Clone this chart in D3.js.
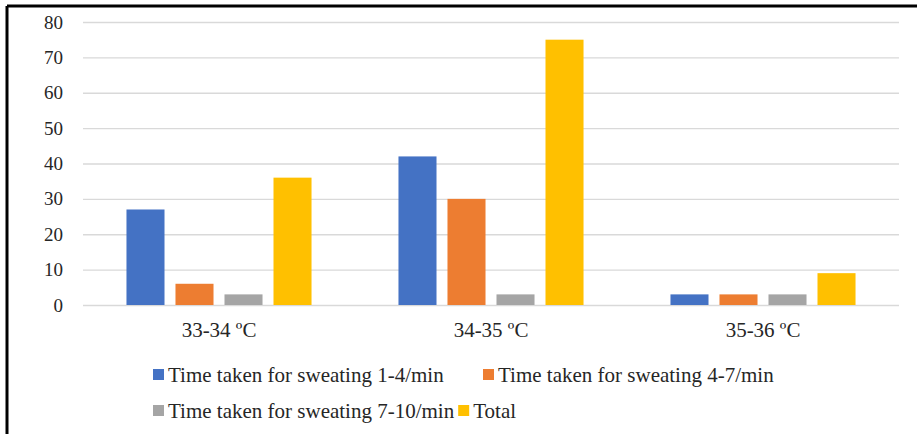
<!DOCTYPE html>
<html>
<head>
<meta charset="utf-8">
<script src="https://cdn.jsdelivr.net/npm/d3@7"></script>
</head>
<body style="margin:0;background:#fff">
<svg id="chart" width="917" height="434" style="display:block"></svg>
<script>
// Temperature ranges on the x axis
const categories = ["33-34 \u00BAC", "34-35 \u00BAC", "35-36 \u00BAC"];
// One entry per legend series
const seriesNames = [
  "Time taken for sweating 1-4/min",
  "Time taken for sweating 4-7/min",
  "Time taken for sweating 7-10/min",
  "Total"
];
const sweat1to4 = [27, 42, 3];
const sweat4to7 = [6, 30, 3];
const sweat7to10 = [3, 3, 3];
const totals = [36, 75, 9];
const yTicks = [0, 10, 20, 30, 40, 50, 60, 70, 80];
const colors = ["#4472C4", "#ED7D31", "#A5A5A5", "#FFC000"];

const FONT = "Liberation Serif";
const TEXT_COLOR = "#262626";

const seriesValues = [sweat1to4, sweat4to7, sweat7to10, totals];
const rows = categories.map((c, i) => ({
  category: c,
  values: seriesNames.map((s, k) => ({ key: s, value: seriesValues[k][i] }))
}));

const svg = d3.select("#chart");
const plot = { left: 83, right: 899, top: 22, bottom: 305 };

const x0 = d3.scaleBand().domain(categories).range([plot.left, plot.right]).paddingInner(0).paddingOuter(0);
const x1 = d3.scaleBand().domain(seriesNames).range([0, x0.bandwidth()]).paddingInner(0.224).paddingOuter(0.887);
const y = d3.scaleLinear().domain([0, 80]).range([plot.bottom, plot.top]);
const color = d3.scaleOrdinal().domain(seriesNames).range(colors);

// serif type set directly on each text node
function font(sel, size) {
  sel.attr("font-family", FONT).style("font-family", FONT)
    .attr("font-size", size).style("font-size", size + "px")
    .attr("fill", TEXT_COLOR);
}

// Outer frame (top and left edges)
svg.append("line").attr("x1", 7).attr("x2", 917).attr("y1", 6).attr("y2", 6)
  .attr("stroke", "#000").attr("stroke-width", 3);
svg.append("line").attr("x1", 7).attr("x2", 7).attr("y1", 6).attr("y2", 434)
  .attr("stroke", "#000").attr("stroke-width", 3);

// Horizontal gridlines + value labels
const yAxis = d3.axisLeft(y).tickValues(yTicks).tickSize(-(plot.right - plot.left)).tickPadding(20).tickFormat(d3.format("d"));
const gy = svg.append("g").attr("transform", `translate(${plot.left},0)`).call(yAxis);
gy.attr("font-family", FONT);
gy.select(".domain").remove();
gy.selectAll(".tick line").attr("stroke", "#D9D9D9").attr("stroke-width", 1.3);
font(gy.selectAll(".tick text").attr("dy", null).attr("y", 6), 19);

// Category labels
const xAxis = d3.axisBottom(x0).tickSize(0).tickPadding(19);
const gx = svg.append("g").attr("transform", `translate(0,${plot.bottom})`).call(xAxis);
gx.attr("font-family", FONT);
gx.select(".domain").remove();
font(gx.selectAll(".tick text").attr("dy", null).attr("y", 32), 21);

// Clustered bars
const groups = svg.append("g").selectAll("g").data(rows).join("g")
  .attr("transform", d => `translate(${x0(d.category)},0)`);
groups.selectAll("rect").data(d => d.values).join("rect")
  .attr("x", d => x1(d.key))
  .attr("width", x1.bandwidth())
  .attr("y", d => y(d.value))
  .attr("height", d => y(0) - y(d.value))
  .attr("fill", d => color(d.key));

// Legend (two rows)
const legendItems = [
  { key: seriesNames[0], x: 153, y: 369 },
  { key: seriesNames[1], x: 483, y: 369 },
  { key: seriesNames[2], x: 153, y: 405 },
  { key: seriesNames[3], x: 0, y: 405 }
];
const legend = svg.append("g");
legendItems.forEach(it => {
  const g = legend.append("g").attr("transform", `translate(${it.x},${it.y})`);
  g.append("rect").attr("width", 11).attr("height", 11).attr("fill", color(it.key));
  const t = g.append("text").attr("x", 15).attr("y", 12.5).text(it.key);
  font(t, 21);
  it.node = g;
  it.width = t.node().getComputedTextLength();
});
// "Total" follows the third entry on the second row
legendItems[3].node.attr("transform", `translate(${153 + 15 + legendItems[2].width + 4},405)`);
</script>
</body>
</html>
